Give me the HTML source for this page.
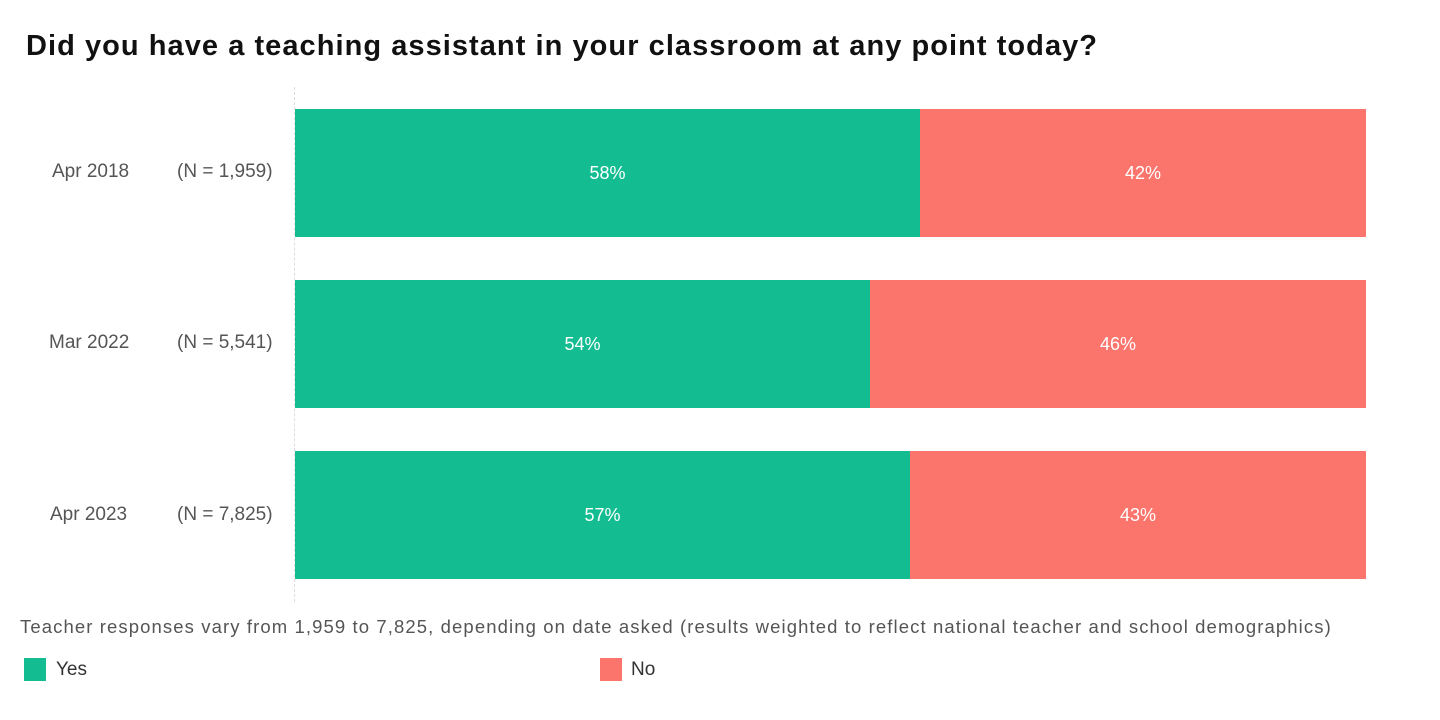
<!DOCTYPE html>
<html><head><style>
body{margin:0;width:1440px;height:720px;background:#fff;position:relative;overflow:hidden;font-family:"Liberation Sans",sans-serif;}
.a{position:absolute}
.t{left:26px;top:30px;font-size:29px;font-weight:bold;color:#111;letter-spacing:1.05px}
.lab{font-size:19px;color:#555}
.bar{position:absolute;height:128px;color:#fff;font-size:18px;display:flex;align-items:center;justify-content:center}
.y{background:#13bd91}.n{background:#fb756d}
</style></head><body>
<div class="a t">Did you have a teaching assistant in your classroom at any point today?</div>
<div class="a" style="left:294px;top:87px;height:515px;border-left:1px dashed #ddd"></div>

<div class="a lab" style="left:52px;top:161px">Apr 2018</div>
<div class="a lab" style="left:177px;top:161px">(N = 1,959)</div>
<div class="bar y" style="left:295px;top:109px;width:625px">58%</div>
<div class="bar n" style="left:920px;top:109px;width:446px">42%</div>

<div class="a lab" style="left:49px;top:332px">Mar 2022</div>
<div class="a lab" style="left:177px;top:332px">(N = 5,541)</div>
<div class="bar y" style="left:295px;top:280px;width:575px">54%</div>
<div class="bar n" style="left:870px;top:280px;width:496px">46%</div>

<div class="a lab" style="left:50px;top:504px">Apr 2023</div>
<div class="a lab" style="left:177px;top:504px">(N = 7,825)</div>
<div class="bar y" style="left:295px;top:451px;width:615px">57%</div>
<div class="bar n" style="left:910px;top:451px;width:456px">43%</div>

<div class="a lab" style="left:20px;top:616px;font-size:18.5px;letter-spacing:1.1px">Teacher responses vary from 1,959 to 7,825, depending on date asked (results weighted to reflect national teacher and school demographics)</div>
<div class="a y" style="left:24px;top:658px;width:22px;height:23px"></div>
<div class="a lab" style="left:56px;top:659px;color:#333">Yes</div>
<div class="a n" style="left:600px;top:658px;width:22px;height:23px"></div>
<div class="a lab" style="left:631px;top:659px;color:#333">No</div>
</body></html>
